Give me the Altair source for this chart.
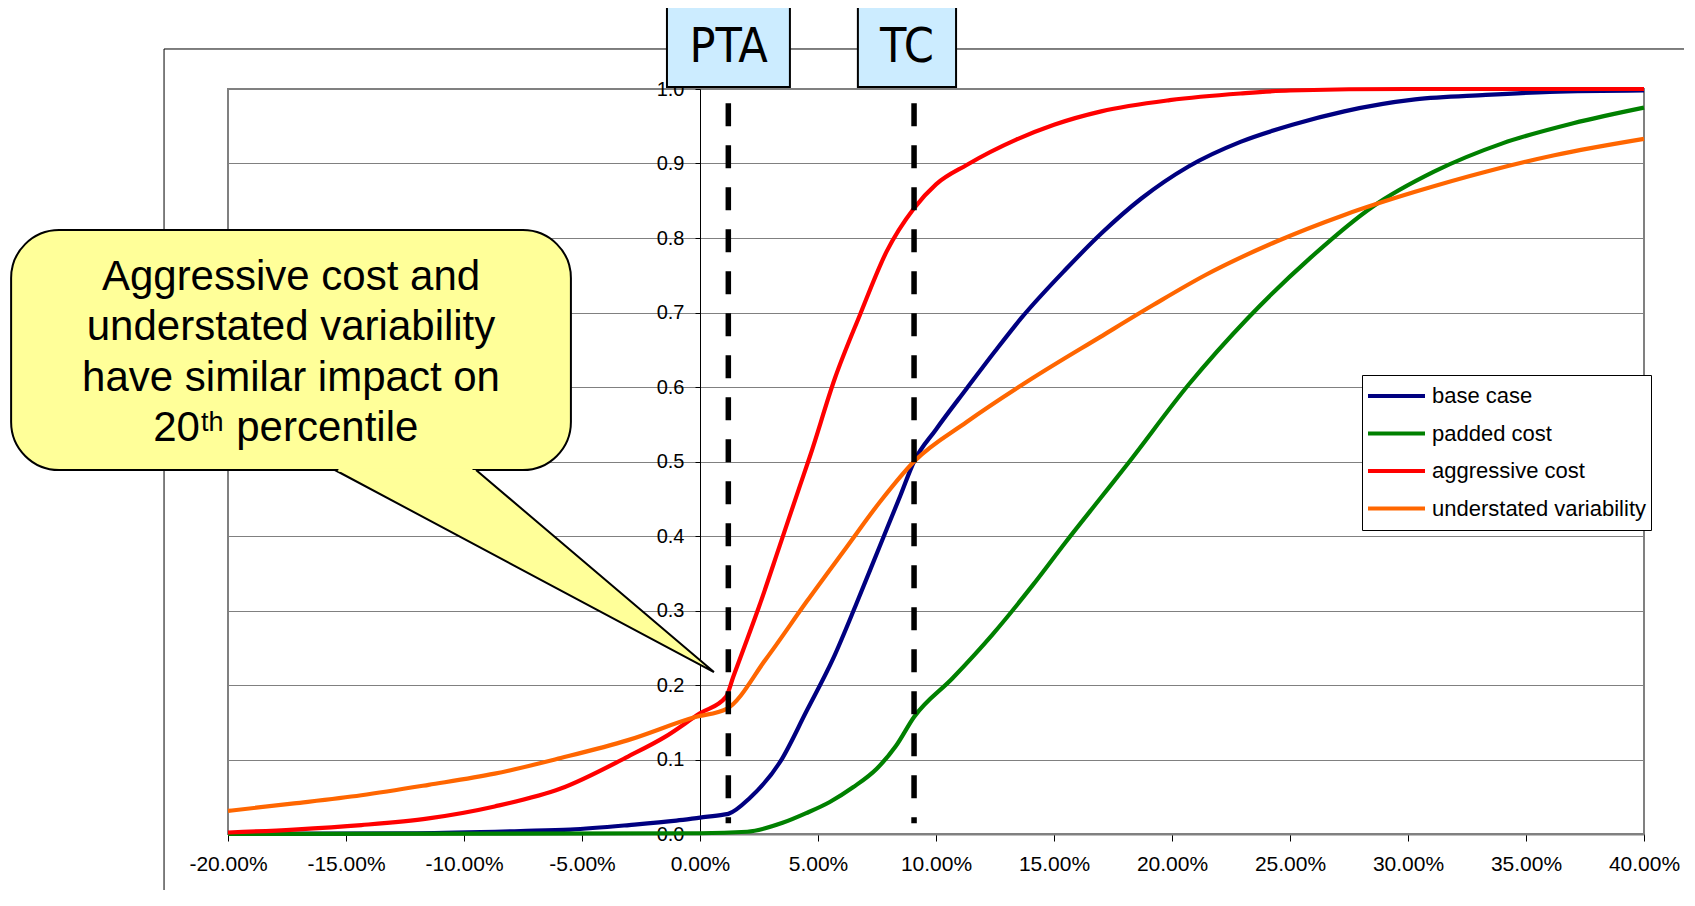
import altair as alt
import pandas as pd

# ---------------- data ----------------
SERIES = ["base case", "padded cost", "aggressive cost", "understated variability"]
COLORS = ["#000080", "#008000", "#FF0000", "#FF6600"]

BASE_X = [-20, -12, -7.6, -5.5, -3, -1, 0, 1.0, 1.2, 2.1, 3.4, 4.5, 5.65, 6.6, 7.6, 8.5, 9.07,
          10, 11.3, 12.5, 13.6, 15.5, 17, 18.7, 20.7, 22.9, 25.1, 27.3, 30.3, 33.3, 36, 40]
BASE_Y = [0, 0.001, 0.004, 0.006, 0.012, 0.018, 0.022, 0.026, 0.027, 0.048, 0.097, 0.164, 0.236,
          0.307, 0.385, 0.455, 0.500, 0.543, 0.598, 0.648, 0.692, 0.758, 0.806, 0.853, 0.896,
          0.929, 0.952, 0.970, 0.986, 0.992, 0.996, 0.998]

PAD_X = [-20, 0, 2.0, 3.5, 4.5, 5.5, 6.5, 7.5, 8.3, 9.07, 10.7, 12.4, 14.1, 15.5, 17, 18.1,
         20.7, 23.2, 25.85, 28.5, 31.1, 34, 37, 40]
PAD_Y = [0, 0.001, 0.003, 0.015, 0.028, 0.043, 0.063, 0.088, 0.118, 0.157, 0.209, 0.268, 0.334,
         0.392, 0.452, 0.496, 0.603, 0.692, 0.773, 0.842, 0.889, 0.927, 0.954, 0.975]

AGG_X = [-20, -17.2, -14.35, -11.5, -8.7, -5.9, -3.05, -1.5, 0, 1.1, 1.41, 1.83, 2.5, 3.39, 4.24,
         4.66, 5.72, 6.78, 7.91, 9.07, 10, 11.3, 13.4, 15, 17, 19.9, 22.9, 25, 30, 40]
AGG_Y = [0.002, 0.006, 0.012, 0.021, 0.037, 0.061, 0.104, 0.130, 0.162, 0.184, 0.211, 0.247,
         0.305, 0.388, 0.468, 0.507, 0.612, 0.697, 0.782, 0.840, 0.872, 0.898, 0.932, 0.952,
         0.970, 0.985, 0.994, 0.998, 1.0, 1.0]

UND_X = [-20, -17.2, -14.35, -11.5, -8.7, -5.9, -3.05, -0.2, 1.13, 2.82, 4.52, 6.21, 7.63, 9.07,
         11.3, 14.1, 16.95, 19.2, 21.4, 24.4, 27.3, 30.3, 33.3, 36.2, 40]
UND_Y = [0.031, 0.041, 0.052, 0.066, 0.081, 0.102, 0.126, 0.157, 0.168, 0.236, 0.312, 0.385,
         0.446, 0.500, 0.553, 0.612, 0.667, 0.710, 0.750, 0.795, 0.831, 0.862, 0.889, 0.911, 0.933]

X_TICKS = [-20, -15, -10, -5, 0, 5, 10, 15, 20, 25, 30, 35, 40]
Y_TICKS = [0.0, 0.1, 0.2, 0.3, 0.4, 0.5, 0.6, 0.7, 0.8, 0.9, 1.0]

# marker lines (x in %)
MARK_NAMES = ["PTA", "TC"]
MARK_X = [1.2, 9.07]
MARK_Y_TOP = 0.981
MARK_Y_BOTTOM = 0.0144
BOX_X1 = [-1.40, 6.69]
BOX_X2 = [3.81, 10.85]
BOX_TEXT_X = [1.21, 8.77]
BOX_Y1 = 1.110
BOX_Y2 = 1.0027
BOX_TEXT_Y = 1.0546

# callout (data units)
BUBBLE_X = [-29.19, -5.47]
BUBBLE_Y = [0.8107, 0.4886]
POINTER_X = [-15.47, 0.59, -9.49]
POINTER_Y = [0.4886, 0.2174, 0.4886]
CALLOUT_LINES = ["Aggressive cost and", "understated variability", "have similar impact on"]
CALLOUT_LINE_Y = [0.7302, 0.6631, 0.5951]
CALLOUT_X = -17.33
LAST_LINE_Y = 0.5279
SUP_Y = 0.541
TWENTY_X = -21.19
SUP_X = -21.14
PERC_X = -19.65

# outer chart-area frame
FRAME_X = -22.71
FRAME_Y = 1.0537

FONT = "Liberation Sans, Arial, sans-serif"
NARROW = "Liberation Sans Narrow, Arial Narrow, DejaVu Sans Condensed, Liberation Sans, sans-serif"

rows = []
for name, xs, ys in [(SERIES[0], BASE_X, BASE_Y), (SERIES[1], PAD_X, PAD_Y),
                     (SERIES[2], AGG_X, AGG_Y), (SERIES[3], UND_X, UND_Y)]:
    for i, (a, b) in enumerate(zip(xs, ys)):
        rows.append({"series": name, "x": a, "y": b, "i": i})
curves = pd.DataFrame(rows)

XS = alt.Scale(domain=[-20, 40], nice=False, zero=False)
YS = alt.Scale(domain=[0, 1], nice=False, zero=False)

X_AX = alt.Axis(values=X_TICKS, title=None, grid=False,
                labelExpr="(datum.value < 0 ? '-' : '') + format(abs(datum.value), '.2f') + '%'",
                domainColor="#808080", domainWidth=2, tickColor="black", tickSize=7,
                labelFont=FONT, labelFontSize=21, labelColor="black", labelPadding=12,
                labelFlush=False, labelOverlap=False, zindex=0)
Y_AX = alt.Axis(values=Y_TICKS, format=".1f", title=None, offset=-472,
                grid=True, gridColor="#808080", gridWidth=1,
                domainColor="black", domainWidth=1, tickColor="black", tickSize=5,
                labelFont=FONT, labelFontSize=20, labelColor="black", labelPadding=11,
                labelFlush=False, labelOverlap=False, zindex=0)

def X(field="x"):
    return alt.X(f"{field}:Q", scale=XS, axis=X_AX)

def Y(field="y"):
    return alt.Y(f"{field}:Q", scale=YS, axis=Y_AX)

lines = alt.Chart(curves).mark_line(strokeWidth=4.2, interpolate="monotone").encode(
    x=X(), y=Y(),
    color=alt.Color("series:N", scale=alt.Scale(domain=SERIES, range=COLORS), title=None,
                    legend=alt.Legend(orient="none", legendX=1134, legendY=286,
                                      symbolType="stroke", symbolSize=3249, symbolStrokeWidth=4,
                                      clipHeight=34, rowPadding=3.5, padding=4,
                                      labelFont=FONT, labelFontSize=22, labelColor="black",
                                      labelOffset=5, labelLimit=400,
                                      strokeColor="black", fillColor="white")),
    order="i:Q",
)

# frame of the chart area
frame_v = alt.Chart(pd.DataFrame({"x": [FRAME_X], "y": [FRAME_Y], "y2": [-0.2]})).mark_rule(
    color="black", strokeWidth=1).encode(x=X(), y=Y(), y2="y2:Q")
frame_h = alt.Chart(pd.DataFrame({"x": [FRAME_X], "x2": [45], "y": [FRAME_Y]})).mark_rule(
    color="black", strokeWidth=1).encode(x=X(), x2="x2:Q", y=Y())

marks = pd.DataFrame({"name": MARK_NAMES, "x": MARK_X, "y": [MARK_Y_TOP] * 2,
                      "y2": [MARK_Y_BOTTOM] * 2})
dashes = alt.Chart(marks).mark_rule(color="black", strokeWidth=5.5, strokeDash=[23, 19],
                                    strokeCap="butt").encode(x=X(), y=Y(), y2="y2:Q")

boxes_df = pd.DataFrame({"name": MARK_NAMES, "x": BOX_X1, "x2": BOX_X2, "y": [BOX_Y1] * 2,
                         "y2": [BOX_Y2] * 2, "tx": BOX_TEXT_X, "ty": [BOX_TEXT_Y] * 2})
boxes = alt.Chart(boxes_df).mark_rect(fill="#CCECFF", stroke="black", strokeWidth=2).encode(
    x=X(), x2="x2:Q", y=Y(), y2="y2:Q")
box_text = alt.Chart(boxes_df).mark_text(font=NARROW, fontSize=48, color="black",
                                         align="center", baseline="middle").encode(
    x=X("tx"), y=Y("ty"), text="name:N")

bubble = alt.Chart(pd.DataFrame({"x": [BUBBLE_X[0]], "x2": [BUBBLE_X[1]], "y": [BUBBLE_Y[0]],
                                 "y2": [BUBBLE_Y[1]]})).mark_rect(
    fill="#FFFF99", stroke="black", strokeWidth=2, cornerRadius=48).encode(
    x=X(), x2="x2:Q", y=Y(), y2="y2:Q")
pointer = alt.Chart(pd.DataFrame({"x": POINTER_X, "y": POINTER_Y, "i": [0, 1, 2]})).mark_line(
    fill="#FFFF99", stroke="black", strokeWidth=2, strokeJoin="miter").encode(
    x=X(), y=Y(), order="i:Q")
seam = alt.Chart(pd.DataFrame({"x": [POINTER_X[0] + 0.15], "x2": [POINTER_X[2] - 0.15],
                               "y": [POINTER_Y[0]]})).mark_rule(
    color="#FFFF99", strokeWidth=3.5).encode(x=X(), x2="x2:Q", y=Y())

callout_df = pd.DataFrame({"x": [CALLOUT_X] * 3, "y": CALLOUT_LINE_Y, "t": CALLOUT_LINES})
callout = alt.Chart(callout_df).mark_text(font=FONT, fontSize=42, color="black",
                                          align="center", baseline="alphabetic").encode(
    x=X(), y=Y(), text="t:N")
twenty = alt.Chart(pd.DataFrame({"x": [TWENTY_X], "y": [LAST_LINE_Y], "t": ["20"]})).mark_text(
    font=FONT, fontSize=42, color="black", align="right", baseline="alphabetic").encode(
    x=X(), y=Y(), text="t:N")
sup = alt.Chart(pd.DataFrame({"x": [SUP_X], "y": [SUP_Y], "t": ["th"]})).mark_text(
    font=FONT, fontSize=27, color="black", align="left", baseline="alphabetic").encode(
    x=X(), y=Y(), text="t:N")
perc = alt.Chart(pd.DataFrame({"x": [PERC_X], "y": [LAST_LINE_Y], "t": ["percentile"]})).mark_text(
    font=FONT, fontSize=42, color="black", align="left", baseline="alphabetic").encode(
    x=X(), y=Y(), text="t:N")

chart = alt.layer(
    frame_v, frame_h, lines, dashes, bubble, pointer, seam, callout, twenty, sup, perc,
    boxes, box_text,
).properties(
    width=1416, height=745,
    autosize=alt.AutoSizeParams(type="none"),
    padding={"left": 220, "top": 81, "right": 40, "bottom": 56},
    background="white",
).configure_view(stroke="#808080", strokeWidth=2)

chart.save("out.html", embed_options={"renderer": "svg", "actions": False})
